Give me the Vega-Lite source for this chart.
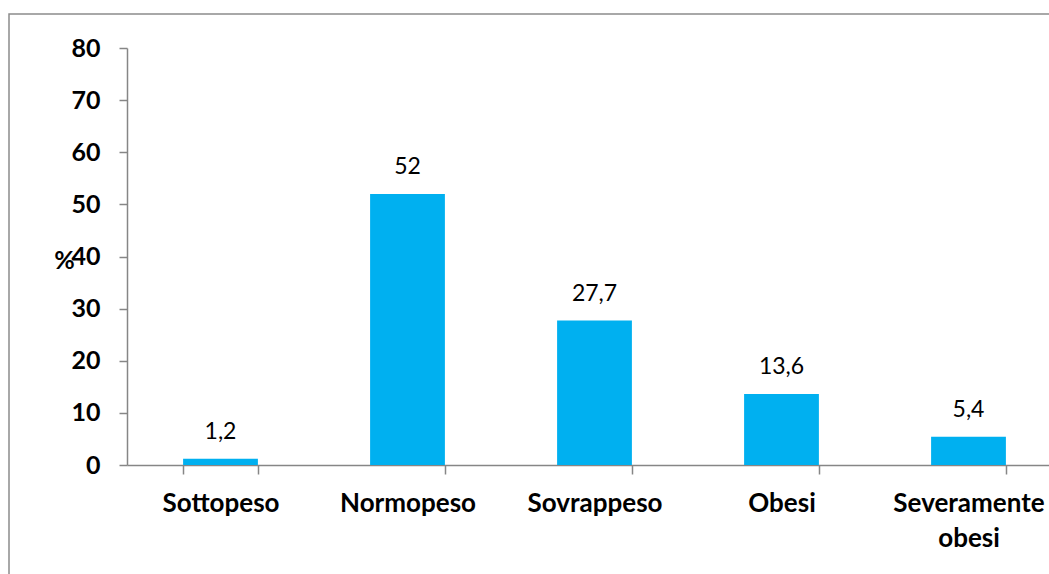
{
  "$schema": "https://vega.github.io/schema/vega-lite/v6.json",
  "autosize": {"type": "none"},
  "padding": {"left": 9, "top": 14, "right": 0, "bottom": 0},
  "width": 1045,
  "height": 565,
  "config": {
    "locale": {"number": {"decimal": ",", "thousands": ".", "grouping": [3], "currency": ["", " €"]}},
    "view": {"stroke": "#8c8c8c", "strokeWidth": 1.5},
    "font": "Lato"
  },
  "data": {
    "values": [
      {"categoria": "Sottopeso", "valore": 1.2},
      {"categoria": "Normopeso", "valore": 52},
      {"categoria": "Sovrappeso", "valore": 27.7},
      {"categoria": "Obesi", "valore": 13.6},
      {"categoria": "Severamente obesi", "valore": 5.4}
    ]
  },
  "encoding": {
    "x": {
      "field": "categoria",
      "type": "nominal",
      "sort": null,
      "scale": {"range": [118, 1053], "paddingInner": 0.6, "paddingOuter": 0.3},
      "axis": {
        "title": null,
        "offset": -114,
        "labelAngle": 0,
        "labelFont": "Lato",
        "labelFontWeight": "bold",
        "labelFontSize": 26,
        "labelColor": "#000000",
        "labelPadding": 16,
        "labelLineHeight": 35,
        "labelBaseline": "top",
        "labelExpr": "datum.label == 'Severamente obesi' ? ['Severamente', 'obesi'] : datum.label",
        "labelOverlap": false,
        "labelBound": false,
        "domainColor": "#868686",
        "domainWidth": 1.5,
        "tickColor": "#868686",
        "tickWidth": 1.5,
        "tickSize": 9,
        "tickBand": "extent",
        "grid": false
      }
    },
    "y": {
      "field": "valore",
      "type": "quantitative",
      "scale": {"domain": [0, 80], "range": [451, 34], "nice": false},
      "axis": {
        "title": "%",
        "titleAngle": 0,
        "titleX": -63,
        "titleY": 246,
        "titleAlign": "center",
        "titleBaseline": "middle",
        "titleFont": "Lato",
        "titleFontSize": 25,
        "titleFontWeight": "bold",
        "titleColor": "#000000",
        "offset": -118,
        "values": [0, 10, 20, 30, 40, 50, 60, 70, 80],
        "labelFont": "Lato",
        "labelFontWeight": "bold",
        "labelFontSize": 25,
        "labelColor": "#000000",
        "labelPadding": 19,
        "domainColor": "#868686",
        "domainWidth": 1.5,
        "tickColor": "#868686",
        "tickWidth": 1.5,
        "tickSize": 8,
        "grid": false
      }
    }
  },
  "layer": [
    {"mark": {"type": "bar", "color": "#00B0F0"}},
    {
      "mark": {"type": "text", "baseline": "alphabetic", "dy": -20, "font": "Lato", "fontSize": 23, "color": "#000000"},
      "encoding": {"text": {"field": "valore", "type": "quantitative", "format": "~g"}}
    }
  ]
}
